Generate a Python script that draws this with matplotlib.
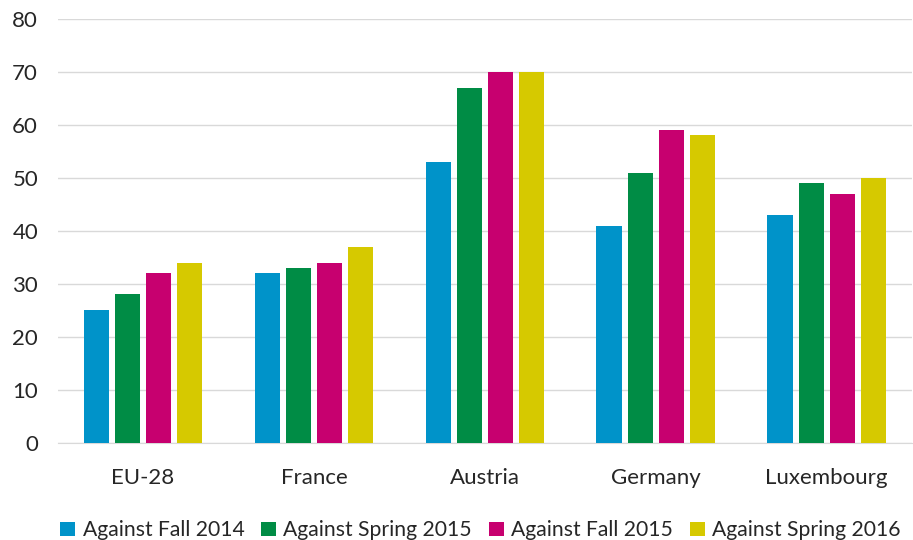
import matplotlib.pyplot as plt
import numpy as np

plt.rcParams["font.family"] = ["Lato", "DejaVu Sans"]

countries = ["EU-28", "France", "Austria", "Germany", "Luxembourg"]
series_names = ["Against Fall 2014", "Against Spring 2015", "Against Fall 2015", "Against Spring 2016"]
fall_2014 = [25, 32, 53, 41, 43]
spring_2015 = [28, 33, 67, 51, 49]
fall_2015 = [32, 34, 70, 59, 47]
spring_2016 = [34, 37, 70, 58, 50]
colors = ["#0093C9", "#008C45", "#C7006F", "#D6C900"]

fig = plt.figure(figsize=(9.13, 5.4), dpi=100)
ax = fig.add_axes([0.063, 0.180, 0.936, 0.785])

x = np.arange(len(countries))
w = 0.147
step = 0.182
for i, (vals, name, c) in enumerate(zip([fall_2014, spring_2015, fall_2015, spring_2016], series_names, colors)):
    ax.bar(x + (i - 1.5) * step, vals, width=w, color=c, label=name, zorder=3)

ax.set_xlim(-0.5, len(countries) - 0.5)
ax.set_ylim(0, 80)
ax.set_yticks(range(0, 81, 10))
ax.set_xticks(x)
ax.set_xticklabels(countries)
ax.grid(axis="y", color="#D9D9D9", lw=1, zorder=0)
for s in ["top", "right", "left"]:
    ax.spines[s].set_visible(False)
ax.spines["bottom"].set_color("#D9D9D9")
ax.tick_params(axis="both", length=0, labelsize=16, colors="#262626")
ax.tick_params(axis="x", pad=18)
ax.tick_params(axis="y", pad=14)

ax.legend(loc="lower center", bbox_to_anchor=(0.495, -0.275), ncol=4, frameon=False,
          fontsize=15.2, handlelength=0.7, handleheight=0.7, handletextpad=0.35,
          columnspacing=0.8, labelcolor="#262626")

fig.savefig("out.png", dpi=100)
